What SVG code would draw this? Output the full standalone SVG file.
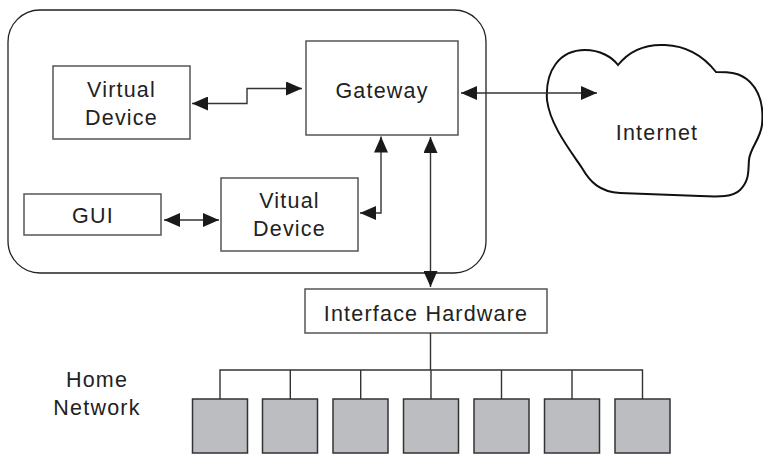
<svg xmlns="http://www.w3.org/2000/svg" width="763" height="454" viewBox="0 0 763 454">
<style>
.box{fill:#fff;stroke:#555;stroke-width:1.5}
.dev{fill:#bcbdc1;stroke:#333;stroke-width:1.5}
.t{font-family:"Liberation Sans",Arial,sans-serif;font-size:21.5px;letter-spacing:1.2px;fill:#222;text-anchor:middle}
.c{fill:none;stroke:#333;stroke-width:1.4}
.a{marker-start:url(#ah);marker-end:url(#ah)}
</style>
<defs>
<marker id="ah" markerUnits="userSpaceOnUse" markerWidth="16" markerHeight="14" refX="16" refY="7" orient="auto-start-reverse" viewBox="0 0 16 14">
<path d="M0,0 L16,7 L0,14 Z" fill="#1a1a1a"/>
</marker>
</defs>
<g id="host">
<rect x="8" y="10" width="478" height="263" rx="32" ry="32" fill="none" stroke="#222" stroke-width="1.3"/>
</g>
<g id="internet">
<path d="M547,100 C545,70 560,50 585,50 C600,50 612,57 618,65 C630,50 645,44 665,45 C690,46 705,58 716,72 C728,72 740,72 750,82 C760,92 764,105 762,125 C760,140 750,148 749,160 C748,170 750,180 740,190 C733,197 720,197 700,196 L620,193 C600,192 590,182 582,168 C570,150 550,125 547,100 Z" fill="#fff" stroke="#111" stroke-width="2"/>
<text class="t" x="657" y="140">Internet</text>
</g>
<g id="virtual-device-1">
<rect class="box" x="53" y="66" width="137" height="73"/>
<text class="t" x="121.5" y="97">Virtual</text>
<text class="t" x="121.5" y="125">Device</text>
</g>
<g id="gateway">
<rect class="box" x="306" y="41" width="152" height="94"/>
<text class="t" x="382" y="98">Gateway</text>
</g>
<g id="gui">
<rect class="box" x="24" y="194" width="137" height="41"/>
<text class="t" x="93" y="223">GUI</text>
</g>
<g id="virtual-device-2">
<rect class="box" x="221" y="178" width="137" height="73"/>
<text class="t" x="289.5" y="208">Vitual</text>
<text class="t" x="289.5" y="236">Device</text>
</g>
<g id="interface-hardware">
<rect class="box" x="305" y="289" width="242" height="44"/>
<text class="t" x="426" y="321">Interface Hardware</text>
</g>
<g id="home-network">
<text class="t" x="97" y="387">Home</text>
<text class="t" x="97" y="415">Network</text>
<rect class="dev" x="192.5" y="399" width="55" height="54"/>
<rect class="dev" x="262.5" y="399" width="55" height="54"/>
<rect class="dev" x="333" y="399" width="55" height="54"/>
<rect class="dev" x="403.5" y="399" width="55" height="54"/>
<rect class="dev" x="474" y="399" width="55" height="54"/>
<rect class="dev" x="544.5" y="399" width="55" height="54"/>
<rect class="dev" x="615" y="399" width="55" height="54"/>
</g>
<g id="connectors">
<path class="c a" d="M192,103.5 H247 V88.5 H302"/>
<path class="c a" d="M461,93 H597"/>
<path class="c a" d="M164,220 H219"/>
<path class="c a" d="M360,213 H381 V136.5"/>
<path class="c a" d="M430.5,137 V287"/>
<path class="c" d="M430.5,333 V370 M220,370 H643 M220,369.3 V399 M290.3,370 V399 M360.7,370 V399 M431,370 V399 M501.5,370 V399 M572,370 V399 M642.5,369.3 V399"/>
</g>
</svg>
